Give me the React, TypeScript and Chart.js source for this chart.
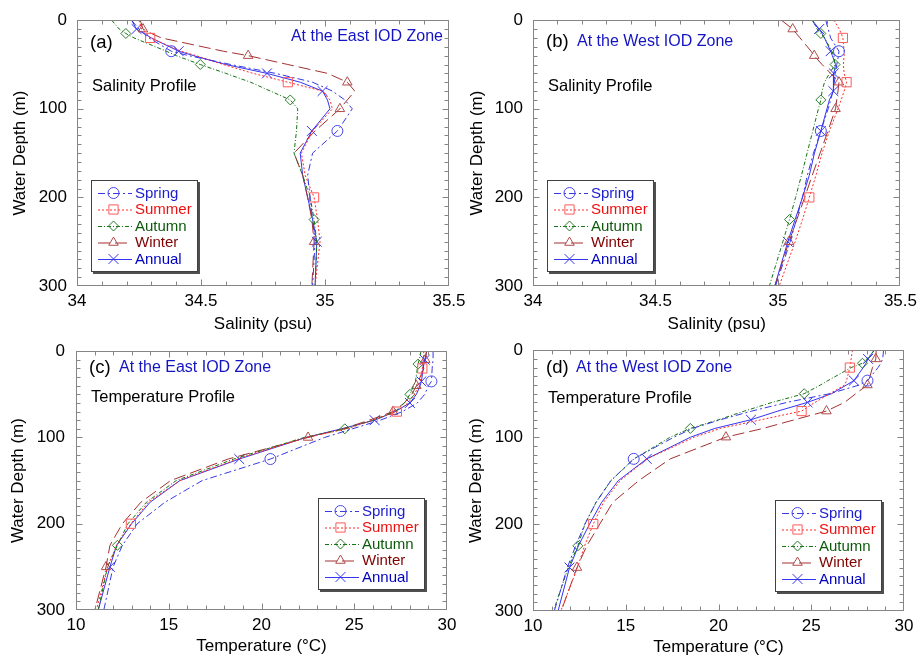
import React, { useEffect, useRef } from 'react';
import { Chart, registerables } from 'chart.js';
Chart.register(...registerables);

const FONT = "'Liberation Sans', Arial, Helvetica, sans-serif";

// ---------------- data ----------------
const DEPTHS = [0, 10, 15, 20, 35, 40, 50, 60, 70, 80, 90, 100, 125, 150, 175, 200, 225, 250, 300];

const SPRING_MARKERS = [35, 125];
const SUMMER_MARKERS = [20, 70, 200];
const AUTUMN_MARKERS = [15, 50, 90, 225];
const WINTER_MARKERS = [10, 40, 70, 100, 250];
const ANNUAL_MARKERS = [10, 35, 60, 80, 125, 250];

const SAL_EAST_SPRING = [34.22, 34.25, 34.27, 34.29, 34.38, 34.45, 34.62, 34.8, 34.95, 35.03, 35.08, 35.11, 35.05, 34.95, 34.93, 34.94, 34.95, 34.96, 34.95];
const SAL_EAST_SUMMER = [34.25, 34.26, 34.28, 34.295, 34.42, 34.48, 34.59, 34.71, 34.85, 34.99, 35.02, 35.03, 34.95, 34.905, 34.92, 34.956, 34.97, 34.98, 34.96];
const SAL_EAST_AUTUMN = [34.14, 34.17, 34.197, 34.23, 34.36, 34.4, 34.497, 34.6, 34.7, 34.78, 34.86, 34.89, 34.885, 34.875, 34.91, 34.94, 34.956, 34.967, 34.96];
const SAL_EAST_WINTER = [34.255, 34.266, 34.3, 34.34, 34.59, 34.69, 34.85, 35.01, 35.09, 35.12, 35.09, 35.06, 34.96, 34.875, 34.91, 34.93, 34.947, 34.956, 34.947];
const SAL_EAST_ANNUAL = [34.22, 34.24, 34.27, 34.3, 34.41, 34.47, 34.6, 34.766, 34.9, 34.99, 35.01, 35.02, 34.947, 34.9, 34.91, 34.93, 34.95, 34.967, 34.96];

const SAL_WEST_SPRING = [35.195, 35.205, 35.21, 35.215, 35.249, 35.247, 35.24, 35.235, 35.23, 35.225, 35.215, 35.205, 35.175, 35.145, 35.12, 35.1, 35.075, 35.05, 34.99];
const SAL_WEST_SUMMER = [35.229, 35.25, 35.258, 35.265, 35.27, 35.27, 35.267, 35.27, 35.28, 35.27, 35.258, 35.245, 35.21, 35.18, 35.155, 35.128, 35.1, 35.07, 35.005];
const SAL_WEST_AUTUMN = [35.14, 35.16, 35.175, 35.19, 35.22, 35.228, 35.233, 35.21, 35.19, 35.18, 35.175, 35.165, 35.142, 35.119, 35.096, 35.072, 35.047, 35.02, 34.965];
const SAL_WEST_WINTER = [35.014, 35.06, 35.075, 35.09, 35.135, 35.148, 35.18, 35.215, 35.249, 35.245, 35.24, 35.235, 35.204, 35.172, 35.14, 35.109, 35.077, 35.045, 34.987];
const SAL_WEST_ANNUAL = [35.14, 35.168, 35.18, 35.19, 35.215, 35.222, 35.235, 35.228, 35.227, 35.226, 35.21, 35.2, 35.175, 35.149, 35.128, 35.1, 35.07, 35.04, 34.987];

const TEMP_EAST_SPRING = [29.25, 29.25, 29.22, 29.2, 29.16, 29.0, 28.8, 28.4, 27.6, 26.4, 24.9, 23.4, 20.48, 16.8, 14.8, 13.3, 12.5, 12.0, 11.5];
const TEMP_EAST_SUMMER = [28.75, 28.72, 28.7, 28.67, 28.55, 28.47, 28.25, 27.9, 27.3, 26.0, 24.6, 22.4, 18.7, 15.6, 13.9, 12.96, 12.19, 11.7, 11.1];
const TEMP_EAST_AUTUMN = [28.6, 28.5, 28.44, 28.4, 28.3, 28.2, 28.0, 27.7, 27.2, 26.0, 24.49, 22.3, 18.5, 15.4, 13.8, 12.8, 12.23, 11.7, 11.2];
const TEMP_EAST_WINTER = [28.9, 28.83, 28.8, 28.75, 28.45, 28.35, 28.1, 27.7, 27.09, 25.8, 24.4, 22.51, 18.2, 15.1, 13.5, 12.5, 11.83, 11.62, 11.02];
const TEMP_EAST_ANNUAL = [28.9, 28.8, 28.75, 28.72, 28.62, 28.55, 28.35, 28.0, 27.2, 26.1, 24.3, 22.4, 18.8, 15.6, 14.0, 13.0, 12.19, 11.83, 11.2];

const TEMP_WEST_SPRING = [28.9, 28.85, 28.75, 28.6, 28.03, 27.6, 26.0, 23.7, 21.8, 20.1, 18.6, 17.6, 15.43, 14.2, 13.4, 12.8, 12.3, 11.85, 11.15];
const TEMP_WEST_SUMMER = [27.22, 27.15, 27.12, 27.08, 26.9, 26.8, 26.0, 25.2, 24.48, 22.3, 20.1, 18.7, 16.15, 14.7, 13.8, 13.25, 12.78, 12.4, 11.5];
const TEMP_WEST_AUTUMN = [28.4, 28.0, 27.76, 27.15, 25.9, 25.5, 24.62, 22.9, 21.4, 20.0, 18.48, 17.4, 15.45, 14.2, 13.4, 12.8, 12.42, 11.9, 11.1];
const TEMP_WEST_WINTER = [28.5, 28.48, 28.4, 28.3, 28.1, 28.03, 27.4, 26.8, 25.82, 24.1, 22.4, 20.4, 17.4, 15.7, 14.3, 13.6, 12.9, 12.37, 11.52];
const TEMP_WEST_ANNUAL = [28.4, 28.06, 27.95, 27.8, 27.3, 26.9, 26.1, 24.8, 23.2, 21.75, 19.8, 18.5, 16.13, 14.6, 13.7, 13.05, 12.45, 11.97, 11.35];

const SALINITY_TICK_RANGE = [34, 35.5];
const TEMP_TICK_RANGE = [10, 30];
const DEPTH_RANGE = [0, 300];

// ---------------- styles ----------------
const MARKERS = [SPRING_MARKERS, SUMMER_MARKERS, AUTUMN_MARKERS, WINTER_MARKERS, ANNUAL_MARKERS];
const STYLES = [
  { label: 'Spring', line: '#3838e6', dash: [7, 3, 2, 3], marker: 'circle', radius: 5.5, markerColor: '#4848ee', text: '#1c1cd0' },
  { label: 'Summer', line: '#ff2a2a', dash: [2, 2], marker: 'rect', radius: 6.5, markerColor: '#ff5a5a', text: '#ee1010' },
  { label: 'Autumn', line: '#137513', dash: [4, 2, 1, 2], marker: 'rectRot', radius: 5, markerColor: '#2c7c2c', text: '#0a5a0a' },
  { label: 'Winter', line: '#a43030', dash: [12, 5], marker: 'triangle', radius: 5.5, markerColor: '#b04c4c', text: '#800000' },
  { label: 'Annual', line: '#3434f2', dash: [], marker: 'crossRot', radius: 7, markerColor: '#3434f2', text: '#0000c0' },
];

function buildDatasets(values: number[][]) {
  return STYLES.map((s, i) => ({
    label: s.label,
    data: DEPTHS.map((d, j) => ({ x: values[i][j], y: d })),
    showLine: true,
    borderColor: s.line,
    borderWidth: 1,
    borderDash: s.dash,
    backgroundColor: 'rgba(0,0,0,0)',
    fill: false,
    tension: 0,
    pointStyle: s.marker,
    pointRadius: DEPTHS.map((d) => (MARKERS[i].includes(d) ? s.radius : 0)),
    pointHoverRadius: DEPTHS.map((d) => (MARKERS[i].includes(d) ? s.radius : 0)),
    pointBorderColor: s.markerColor,
    pointBackgroundColor: 'rgba(0,0,0,0)',
    pointBorderWidth: 1,
    legendText: s.text,
    legendMarkerRadius: s.radius,
  }));
}

// ---------------- plugins ----------------
const frameTicks = {
  id: 'frameTicks',
  afterDatasetsDraw(chart: any, _a: any, opts: any) {
    const { ctx, chartArea: a, scales } = chart;
    const xs = scales.x, ys = scales.y;
    const L = Math.round(a.left) + 0.5, R = Math.round(a.right) - 0.5, T = Math.round(a.top) + 0.5, B = Math.round(a.bottom) - 0.5;
    ctx.save();
    ctx.strokeStyle = '#858585';
    ctx.lineWidth = 1;
    ctx.setLineDash([]);
    ctx.strokeRect(L, T, R - L, B - T);
    ctx.beginPath();
    const isMajor = (v: number, step: number) => Math.abs(v / step - Math.round(v / step)) < 1e-6;
    const nx = Math.round((xs.max - xs.min) / opts.xMinor);
    for (let i = 1; i < nx; i++) {
      const v = xs.min + i * opts.xMinor;
      const len = isMajor(v, opts.xMajor) ? 6 : 4;
      const px = Math.round(xs.getPixelForValue(v)) + 0.5;
      ctx.moveTo(px, B); ctx.lineTo(px, B - len);
      ctx.moveTo(px, T); ctx.lineTo(px, T + len);
    }
    const ny = Math.round((ys.max - ys.min) / opts.yMinor);
    for (let i = 1; i < ny; i++) {
      const v = ys.min + i * opts.yMinor;
      const len = isMajor(v, opts.yMajor) ? 6 : 4;
      const py = Math.round(ys.getPixelForValue(v)) + 0.5;
      ctx.moveTo(L, py); ctx.lineTo(L + len, py);
      ctx.moveTo(R, py); ctx.lineTo(R - len, py);
    }
    ctx.stroke();
    ctx.restore();
  },
};

const textNotes = {
  id: 'textNotes',
  afterDraw(chart: any, _a: any, opts: any) {
    const { ctx } = chart;
    ctx.save();
    ctx.textBaseline = 'middle';
    for (const it of opts.items || []) {
      ctx.font = `${it.size}px ${FONT}`;
      ctx.fillStyle = it.color;
      ctx.textAlign = it.align || 'left';
      ctx.fillText(it.text, it.x, it.y);
    }
    ctx.restore();
  },
};

function drawMarker(ctx: CanvasRenderingContext2D, style: string, r: number, x: number, y: number) {
  ctx.beginPath();
  if (style === 'circle') {
    ctx.arc(x, y, r, 0, Math.PI * 2);
  } else if (style === 'rect') {
    const s = Math.SQRT1_2 * r;
    ctx.rect(x - s, y - s, 2 * s, 2 * s);
  } else if (style === 'rectRot') {
    ctx.moveTo(x, y - r); ctx.lineTo(x + r, y); ctx.lineTo(x, y + r); ctx.lineTo(x - r, y); ctx.closePath();
  } else if (style === 'triangle') {
    const dx = r * Math.cos(Math.PI / 6), dy = r * 0.5;
    ctx.moveTo(x, y - r); ctx.lineTo(x + dx, y + dy); ctx.lineTo(x - dx, y + dy); ctx.closePath();
  } else if (style === 'crossRot') {
    const d = Math.SQRT1_2 * r;
    ctx.moveTo(x - d, y - d); ctx.lineTo(x + d, y + d);
    ctx.moveTo(x - d, y + d); ctx.lineTo(x + d, y - d);
  }
  ctx.stroke();
}

const boxLegend = {
  id: 'boxLegend',
  afterDraw(chart: any, _a: any, opts: any) {
    const { ctx } = chart;
    const x = opts.x, y = opts.y, w = 107, h = 92;
    ctx.save();
    ctx.fillStyle = '#505050';
    ctx.fillRect(x + 2, y + 2, w, h);
    ctx.fillStyle = '#ffffff';
    ctx.fillRect(x, y, w, h);
    ctx.strokeStyle = '#404040';
    ctx.lineWidth = 1;
    ctx.strokeRect(x + 0.5, y + 0.5, w - 1, h - 1);
    chart.data.datasets.forEach((ds: any, i: number) => {
      const cy = y + 13 + i * 16.5;
      const x0 = x + 7, x1 = x + 41, mx = x + 22.5;
      ctx.save();
      ctx.strokeStyle = ds.borderColor;
      ctx.lineWidth = 1;
      ctx.setLineDash(ds.borderDash);
      ctx.beginPath();
      ctx.moveTo(x0, cy + 0.5); ctx.lineTo(x1, cy + 0.5);
      ctx.stroke();
      ctx.setLineDash([]);
      ctx.strokeStyle = ds.pointBorderColor;
      drawMarker(ctx, ds.pointStyle, ds.legendMarkerRadius, mx, cy);
      ctx.restore();
      ctx.fillStyle = ds.legendText;
      ctx.font = `15px ${FONT}`;
      ctx.textAlign = 'left';
      ctx.textBaseline = 'middle';
      ctx.fillText(ds.label, x + 44, cy + 0.5);
    });
    ctx.restore();
  },
};

// ---------------- panels ----------------
type PanelCfg = {
  left: number; top: number; w: number; h: number;
  padTop: number; padRight: number; yW: number; xH: number;
  yTitlePad: number; xTitlePad: number; yTickPad: number;
  xRange: number[]; xMajor: number; xMinor: number; yMinor: number;
  xTitle: string; values: number[][];
  notes: any[]; legend: { x: number; y: number };
};

const PANELS: PanelCfg[] = [
  {
    left: 0, top: 0, w: 480, h: 340, padTop: 17, padRight: 31, yW: 77, xH: 54,
    yTitlePad: 10, xTitlePad: 5, yTickPad: 10,
    xRange: SALINITY_TICK_RANGE, xMajor: 0.5, xMinor: 0.1, yMinor: 10,
    xTitle: 'Salinity (psu)',
    values: [SAL_EAST_SPRING, SAL_EAST_SUMMER, SAL_EAST_AUTUMN, SAL_EAST_WINTER, SAL_EAST_ANNUAL],
    notes: [
      { text: '(a)', x: 90, y: 43, size: 18.5, color: '#000' },
      { text: 'At the East IOD Zone', x: 443, y: 37, size: 16, color: '#1414c4', align: 'right' },
      { text: 'Salinity Profile', x: 92, y: 86, size: 16.5, color: '#000' },
    ],
    legend: { x: 91, y: 180 },
  },
  {
    left: 461, top: 0, w: 461, h: 340, padTop: 17, padRight: 17, yW: 72, xH: 54,
    yTitlePad: 6, xTitlePad: 5, yTickPad: 10,
    xRange: SALINITY_TICK_RANGE, xMajor: 0.5, xMinor: 0.1, yMinor: 10,
    xTitle: 'Salinity (psu)',
    values: [SAL_WEST_SPRING, SAL_WEST_SUMMER, SAL_WEST_AUTUMN, SAL_WEST_WINTER, SAL_WEST_ANNUAL],
    notes: [
      { text: '(b)', x: 85, y: 42, size: 18.5, color: '#000' },
      { text: 'At the West IOD Zone', x: 116, y: 42, size: 16, color: '#1414c4' },
      { text: 'Salinity Profile', x: 87, y: 86, size: 16.5, color: '#000' },
    ],
    legend: { x: 86, y: 180 },
  },
  {
    left: 0, top: 330, w: 480, h: 328, padTop: 12, padRight: 33, yW: 76, xH: 48,
    yTitlePad: 8, xTitlePad: 1, yTickPad: 11,
    xRange: TEMP_TICK_RANGE, xMajor: 5, xMinor: 1, yMinor: 10,
    xTitle: 'Temperature (°C)',
    values: [TEMP_EAST_SPRING, TEMP_EAST_SUMMER, TEMP_EAST_AUTUMN, TEMP_EAST_WINTER, TEMP_EAST_ANNUAL],
    notes: [
      { text: '(c)', x: 89, y: 37.5, size: 18.5, color: '#000' },
      { text: 'At the East IOD Zone', x: 119, y: 37.5, size: 16, color: '#1414c4' },
      { text: 'Temperature Profile', x: 91, y: 67.5, size: 16.5, color: '#000' },
    ],
    legend: { x: 318, y: 168 },
  },
  {
    left: 461, top: 330, w: 461, h: 328, padTop: 13, padRight: 18, yW: 72, xH: 47,
    yTitlePad: 5, xTitlePad: 0, yTickPad: 10,
    xRange: TEMP_TICK_RANGE, xMajor: 5, xMinor: 1, yMinor: 10,
    xTitle: 'Temperature (°C)',
    values: [TEMP_WEST_SPRING, TEMP_WEST_SUMMER, TEMP_WEST_AUTUMN, TEMP_WEST_WINTER, TEMP_WEST_ANNUAL],
    notes: [
      { text: '(d)', x: 85, y: 37.5, size: 18.5, color: '#000' },
      { text: 'At the West IOD Zone', x: 115, y: 37.5, size: 16, color: '#1414c4' },
      { text: 'Temperature Profile', x: 87, y: 68, size: 16.5, color: '#000' },
    ],
    legend: { x: 314, y: 170 },
  },
];

const fmtTick = (v: any) => String(Number(Number(v).toFixed(3)));

function Panel({ cfg }: { cfg: PanelCfg }) {
  const ref = useRef<HTMLCanvasElement>(null);
  useEffect(() => {
    const chart = new Chart(ref.current as HTMLCanvasElement, {
      type: 'scatter',
      data: { datasets: buildDatasets(cfg.values) as any },
      plugins: [frameTicks, textNotes, boxLegend],
      options: {
        animation: false,
        responsive: false,
        maintainAspectRatio: false,
        events: [],
        layout: { padding: { left: 0, top: cfg.padTop, right: cfg.padRight, bottom: 0 } },
        plugins: {
          legend: { display: false },
          tooltip: { enabled: false },
          frameTicks: { xMajor: cfg.xMajor, xMinor: cfg.xMinor, yMajor: 100, yMinor: cfg.yMinor },
          textNotes: { items: cfg.notes },
          boxLegend: cfg.legend,
        } as any,
        scales: {
          x: {
            type: 'linear',
            position: 'bottom',
            min: cfg.xRange[0],
            max: cfg.xRange[1],
            ticks: { stepSize: cfg.xMajor, color: '#000', font: { family: FONT, size: 17 }, padding: 5, maxRotation: 0, callback: fmtTick },
            grid: { display: false, drawTicks: false },
            border: { display: false },
            title: { display: true, text: cfg.xTitle, color: '#000', font: { family: FONT, size: 17 }, padding: { top: 0, bottom: cfg.xTitlePad } },
            afterFit: (s: any) => { s.height = cfg.xH; },
          },
          y: {
            type: 'linear',
            position: 'left',
            reverse: true,
            min: DEPTH_RANGE[0],
            max: DEPTH_RANGE[1],
            ticks: { stepSize: 100, color: '#000', font: { family: FONT, size: 17 }, padding: cfg.yTickPad, callback: fmtTick },
            grid: { display: false, drawTicks: false },
            border: { display: false },
            title: { display: true, text: 'Water Depth (m)', color: '#000', font: { family: FONT, size: 17 }, padding: { top: cfg.yTitlePad, bottom: 0 } },
            afterFit: (s: any) => { s.width = cfg.yW; },
          },
        },
      } as any,
    });
    return () => chart.destroy();
  }, []);
  return (
    <canvas
      ref={ref}
      width={cfg.w}
      height={cfg.h}
      style={{ position: 'absolute', left: cfg.left, top: cfg.top, width: cfg.w, height: cfg.h }}
    />
  );
}

export default function App() {
  return (
    <div style={{ position: 'absolute', left: 0, top: 0, width: 922, height: 658, background: '#fff', overflow: 'hidden' }}>
      {PANELS.map((p, i) => (
        <Panel key={i} cfg={p} />
      ))}
    </div>
  );
}
